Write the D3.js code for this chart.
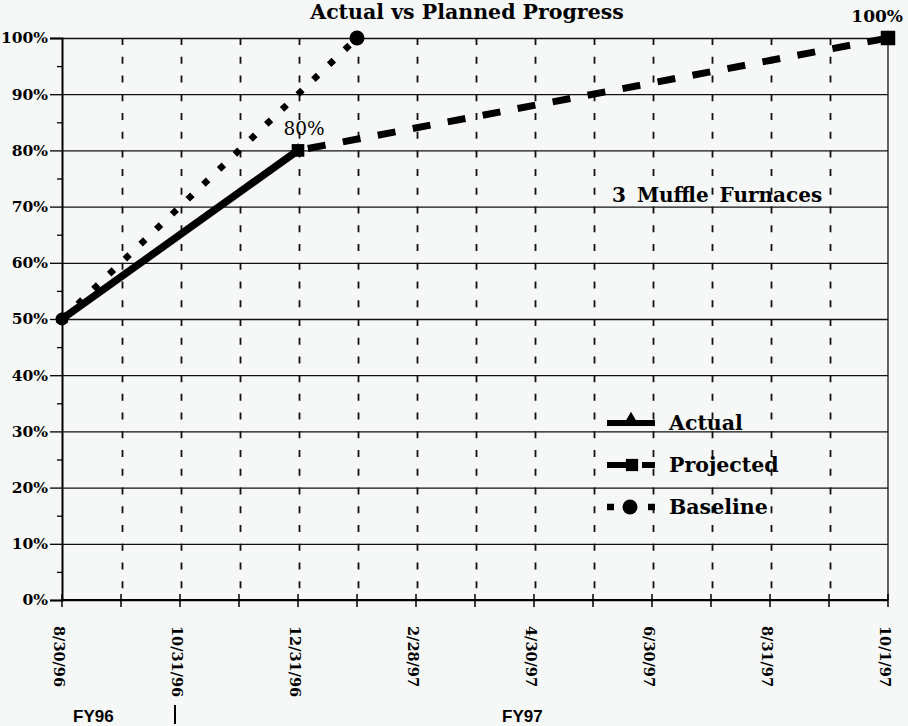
<!DOCTYPE html>
<html>
<head>
<meta charset="utf-8">
<script src="https://cdn.jsdelivr.net/npm/d3@7"></script>
<style>
  body { margin: 0; background: #f6f7f7; }
  svg { display: block; }
  .serif { font-family: "DejaVu Serif", serif; font-weight: bold; }
  .plain { font-family: "DejaVu Serif", serif; }
  .sans { font-family: "Liberation Sans", Arial, sans-serif; font-weight: bold; }
</style>
</head>
<body>
<svg id="chart" width="908" height="726"></svg>
<script>
// month ends along the x axis
var dates = ['8/30/96', '9/30/96', '10/31/96', '11/30/96', '12/31/96', '1/31/97', '2/28/97',
  '3/31/97', '4/30/97', '5/31/97', '6/30/97', '7/31/97', '8/31/97', '9/30/97', '10/1/97']
var shownDates = ['8/30/96', '10/31/96', '12/31/96', '2/28/97', '4/30/97', '6/30/97', '8/31/97', '10/1/97']
var yTicks = [0, 10, 20, 30, 40, 50, 60, 70, 80, 90, 100]
var yMinor = [5, 15, 25, 35, 45, 55, 65, 75, 85, 95]

// percent complete
var actualDates = ['8/30/96', '12/31/96']
var actualValues = [50, 80]
var projectedDates = ['12/31/96', '10/1/97']
var projectedValues = [80, 100]
var baselineDates = ['8/30/96', '1/31/97']
var baselineValues = [50, 100]

var legendNames = ['Actual', 'Projected', 'Baseline']

var svg = d3.select('#chart')
// plot box (window.top is read-only, so no "top" here)
var x0 = 62, x1 = 888, yTop = 38, yBot = 600

var x = d3.scalePoint().domain(dates).range([x0, x1])
var y = d3.scaleLinear().domain([0, 100]).range([yBot, yTop])

function pts(ds, vs) {
  return ds.map(function(d, i) { return [x(d), y(vs[i])] })
}
var line = d3.line()

// horizontal grid
svg.append('g')
  .attr('transform', 'translate(' + x0 + ',0)')
  .call(d3.axisLeft(y).tickValues(yTicks).tickSize(-(x1 - x0)).tickFormat(''))
  .call(function(g) { g.select('.domain').remove() })
  .selectAll('line').attr('stroke', '#111').attr('stroke-width', 1.3)

// vertical dashed grid
svg.append('g').selectAll('line')
  .data(dates.slice(1, -1))
  .join('line')
  .attr('x1', function(d) { return x(d) + 1.5 }).attr('x2', function(d) { return x(d) + 1.5 })
  .attr('y1', yTop).attr('y2', yBot)
  .attr('stroke', '#111').attr('stroke-width', 1.8)
  .attr('stroke-dasharray', '7,11.73')

// right border
svg.append('line')
  .attr('x1', x1).attr('x2', x1).attr('y1', yTop).attr('y2', yBot)
  .attr('stroke', '#111').attr('stroke-width', 1.3)

// y axis
var yAxis = svg.append('g')
  .attr('transform', 'translate(' + x0 + ',0)')
  .call(d3.axisLeft(y).tickValues(yTicks).tickSize(12).tickPadding(2).tickFormat(function(d) { return d + '%' }))
yAxis.select('.domain').attr('stroke', '#000').attr('stroke-width', 2)
yAxis.selectAll('line').attr('stroke', '#000').attr('stroke-width', 1.3)
yAxis.selectAll('text').attr('class', 'serif').attr('font-size', 15.5).attr('fill', '#000')

svg.append('g')
  .attr('transform', 'translate(' + x0 + ',0)')
  .call(d3.axisLeft(y).tickValues(yMinor).tickSize(5).tickFormat(''))
  .call(function(g) { g.select('.domain').remove() })
  .selectAll('line').attr('stroke', '#000').attr('stroke-width', 1.3)

// x axis
svg.append('line')
  .attr('x1', x0).attr('x2', x1).attr('y1', yBot).attr('y2', yBot)
  .attr('stroke', '#000').attr('stroke-width', 2)
svg.append('g').selectAll('line')
  .data(dates)
  .join('line')
  .attr('x1', function(d) { return x(d) }).attr('x2', function(d) { return x(d) })
  .attr('y1', yBot - 6).attr('y2', yBot + 7)
  .attr('stroke', '#000').attr('stroke-width', 1.5)
svg.append('g').selectAll('text')
  .data(shownDates)
  .join('text')
  .attr('class', 'serif')
  .attr('font-size', 14.5)
  .attr('transform', function(d) { return 'translate(' + (x(d) - 3) + ',626) rotate(90)' })
  .attr('dy', '0.35em')
  .text(function(d) { return d })

// fiscal year labels
svg.append('text').attr('class', 'sans').attr('x', 73).attr('y', 722)
  .attr('font-size', 17)
  .text('FY96')
svg.append('line').attr('x1', 175).attr('x2', 175).attr('y1', 705).attr('y2', 724)
  .attr('stroke', '#000').attr('stroke-width', 2)
svg.append('text').attr('class', 'sans').attr('x', 502).attr('y', 722)
  .attr('font-size', 17)
  .text('FY97')

// series
svg.append('path')
  .attr('d', line(pts(baselineDates, baselineValues)))
  .attr('fill', 'none').attr('stroke', '#000').attr('stroke-width', 6.5)
  .attr('stroke-dasharray', '6.5,15.2')
svg.append('path')
  .attr('d', line(pts(actualDates, actualValues)))
  .attr('fill', 'none').attr('stroke', '#000').attr('stroke-width', 7.5)
svg.append('path')
  .attr('d', line(pts(projectedDates, projectedValues)))
  .attr('fill', 'none').attr('stroke', '#000').attr('stroke-width', 7)
  .attr('stroke-dasharray', '18,17.6').attr('stroke-dashoffset', -10)

// markers
var tri = d3.symbol().type(d3.symbolTriangle).size(70)
var sq = d3.symbol().type(d3.symbolSquare)
svg.append('g').selectAll('circle')
  .data(pts(baselineDates, baselineValues))
  .join('circle')
  .attr('cx', function(d) { return d[0] }).attr('cy', function(d) { return d[1] })
  .attr('r', function(d, i) { return i ? 7.5 : 6.5 })
svg.append('g').selectAll('path')
  .data(pts(actualDates, actualValues))
  .join('path')
  .attr('d', tri)
  .attr('transform', function(d) { return 'translate(' + d + ')' })
svg.append('g').selectAll('path')
  .data(pts(projectedDates, projectedValues))
  .join('path')
  .attr('d', function(d, i) { return sq.size(i ? 210 : 160)() })
  .attr('transform', function(d) { return 'translate(' + d + ')' })

// point labels
svg.append('text')
  .attr('class', 'plain')
  .attr('x', x('12/31/96') + 6).attr('y', y(80) - 15)
  .attr('text-anchor', 'middle')
  .attr('font-size', 18.5)
  .text(actualValues[1] + '%')
svg.append('text')
  .attr('class', 'serif')
  .attr('x', 903).attr('y', 22)
  .attr('text-anchor', 'end')
  .attr('font-size', 17)
  .text(projectedValues[1] + '%')

// titles
svg.append('text')
  .attr('class', 'serif')
  .attr('x', 467).attr('y', 19)
  .attr('text-anchor', 'middle')
  .attr('font-size', 20.5)
  .text('Actual vs Planned Progress')
svg.append('text')
  .attr('class', 'serif')
  .attr('x', 612).attr('y', 202)
  .attr('font-size', 20)
  .attr('word-spacing', 4)
  .text('3 Muffle Furnaces')

// legend
var legend = svg.append('g').attr('transform', 'translate(607,0)')
var rowY = [423, 465, 507]
legend.append('line').attr('x1', 0).attr('x2', 48).attr('y1', rowY[0]).attr('y2', rowY[0])
  .attr('stroke', '#000').attr('stroke-width', 6)
legend.append('path').attr('d', d3.symbol().type(d3.symbolTriangle).size(110)())
  .attr('transform', 'translate(24,' + (rowY[0] - 2) + ')')
legend.append('line').attr('x1', 0).attr('x2', 48).attr('y1', rowY[1]).attr('y2', rowY[1])
  .attr('stroke', '#000').attr('stroke-width', 6).attr('stroke-dasharray', '19,16,13')
legend.append('path').attr('d', sq.size(150)())
  .attr('transform', 'translate(25,' + rowY[1] + ')')
legend.append('line').attr('x1', 0).attr('x2', 48).attr('y1', rowY[2]).attr('y2', rowY[2])
  .attr('stroke', '#000').attr('stroke-width', 6.5).attr('stroke-dasharray', '7,34,7')
legend.append('circle').attr('cx', 23).attr('cy', rowY[2]).attr('r', 7.5)
legend.selectAll('text')
  .data(legendNames)
  .join('text')
  .attr('class', 'serif')
  .attr('x', 62).attr('y', function(d, i) { return rowY[i] + 7 })
  .attr('font-size', 20.5)
  .text(function(d) { return d })
</script>
</body>
</html>
